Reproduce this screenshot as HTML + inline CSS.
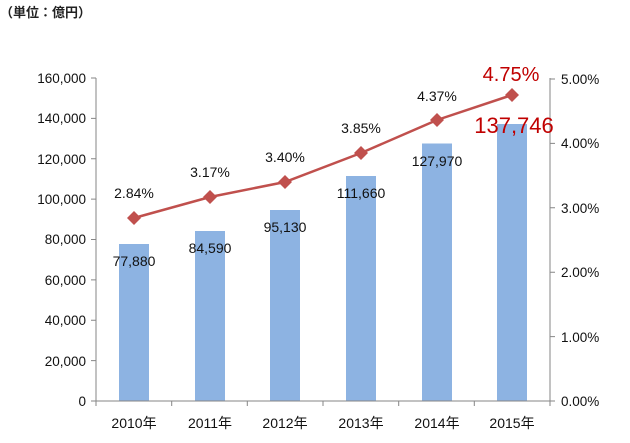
<!DOCTYPE html>
<html><head><meta charset="utf-8"><style>body{margin:0;background:#fff}</style></head><body>
<svg width="630" height="438" xmlns="http://www.w3.org/2000/svg" font-family="'Liberation Sans','Noto Sans CJK JP',sans-serif">
<text x="0" y="17" font-size="13" font-weight="bold" fill="#222">（単位：億円）</text>
<g fill="#8db3e2">
<rect x="119" y="244" width="30" height="157"/>
<rect x="195" y="231" width="30" height="170"/>
<rect x="270" y="210" width="30" height="191"/>
<rect x="346" y="176" width="30" height="225"/>
<rect x="422" y="143.5" width="30" height="257.5"/>
<rect x="497" y="124" width="30" height="277"/>
</g>
<g stroke="#868686" stroke-width="1" fill="none">
<line x1="96" y1="78" x2="96" y2="401"/>
<line x1="550" y1="78" x2="550" y2="401"/>
<line x1="91" y1="401" x2="555" y2="401"/>
<path d="M91 78h5M91 118.4h5M91 158.75h5M91 199.1h5M91 239.5h5M91 279.9h5M91 320.25h5M91 360.6h5"/>
<path d="M550 79h5M550 143.4h5M550 207.8h5M550 272.2h5M550 336.6h5"/>
<path d="M171.7 401v5M247.3 401v5M323 401v5M398.7 401v5M474.3 401v5M96 401v5M550 401v5"/>
</g>
<g font-size="13.5" fill="#111" text-anchor="end">
<text x="86" y="83">160,000</text><text x="86" y="123">140,000</text><text x="86" y="164">120,000</text><text x="86" y="204">100,000</text><text x="86" y="244">80,000</text><text x="86" y="285">60,000</text><text x="86" y="325">40,000</text><text x="86" y="366">20,000</text><text x="86" y="406">0</text>
</g>
<g font-size="13.5" fill="#111">
<text x="561" y="84">5.00%</text><text x="561" y="148">4.00%</text><text x="561" y="213">3.00%</text><text x="561" y="277">2.00%</text><text x="561" y="342">1.00%</text><text x="561" y="406">0.00%</text>
</g>
<g font-size="14" fill="#111" text-anchor="middle">
<text x="134" y="428">2010年</text><text x="210" y="428">2011年</text><text x="285" y="428">2012年</text><text x="361" y="428">2013年</text><text x="437" y="428">2014年</text><text x="512" y="428">2015年</text>
<text x="134" y="266">77,880</text><text x="210" y="253">84,590</text><text x="285" y="232">95,130</text><text x="361" y="198">111,660</text><text x="437" y="166">127,970</text>
<text x="134" y="198">2.84%</text><text x="210" y="177">3.17%</text><text x="285" y="162">3.40%</text><text x="361" y="133">3.85%</text><text x="437" y="101">4.37%</text>
</g>
<polyline points="134,218 210,197 285,182 361,153 437,120 512,95" fill="none" stroke="#c0504d" stroke-width="2.5"/>
<g fill="#c0504d">
<path d="M134 211l7 7-7 7-7-7z"/><path d="M210 190l7 7-7 7-7-7z"/><path d="M285 175l7 7-7 7-7-7z"/><path d="M361 146l7 7-7 7-7-7z"/><path d="M437 113l7 7-7 7-7-7z"/><path d="M512 88l7 7-7 7-7-7z"/>
</g>
<text x="511" y="81" font-size="20" fill="#c00000" text-anchor="middle">4.75%</text>
<text x="514" y="133" font-size="22" fill="#c00000" text-anchor="middle">137,746</text>
</svg>
</body></html>
